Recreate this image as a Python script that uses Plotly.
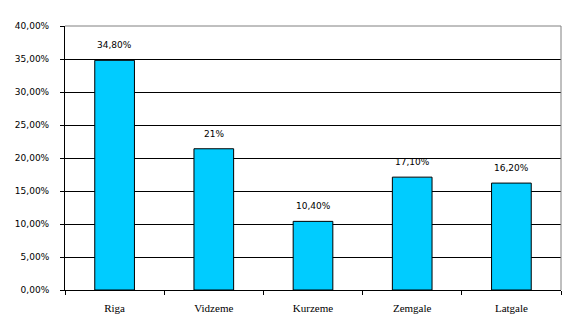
import plotly.graph_objects as go

categories = ["Riga", "Vidzeme", "Kurzeme", "Zemgale", "Latgale"]
values = [0.348, 0.214, 0.104, 0.171, 0.162]
labels = ["34,80%", "21%", "10,40%", "17,10%", "16,20%"]
y_ticks = [0, 0.05, 0.10, 0.15, 0.20, 0.25, 0.30, 0.35, 0.40]

fig = go.Figure()
fig.add_trace(go.Bar(
    x=categories, y=values, width=0.4,
    marker=dict(color="#00CCFF", line=dict(color="black", width=1)),
    hoverinfo="skip",
))
for c, v, t in zip(categories, values, labels):
    fig.add_annotation(x=c, y=v, text=t, showarrow=False, yanchor="bottom",
                       yshift=8, font=dict(family="DejaVu Sans", size=9, color="black"))

fig.update_layout(
    width=576, height=336,
    margin=dict(l=65, r=15, t=26, b=46),
    paper_bgcolor="white", plot_bgcolor="white",
    separators=",.",
    showlegend=False,
    bargap=0.6,
)
fig.update_xaxes(
    type="category", tickson="boundaries", ticks="outside", ticklen=4,
    tickcolor="black", showline=True, linecolor="black", linewidth=1,
    showgrid=False, ticklabelstandoff=8,
    tickfont=dict(family="Liberation Serif", size=11, color="black"),
)
fig.update_yaxes(
    range=[0, 0.40], tickvals=y_ticks, tickformat=".2%",
    ticks="outside", ticklen=4, tickcolor="black",
    showline=True, linecolor="black", linewidth=1,
    showgrid=True, gridcolor="black", gridwidth=1, zeroline=False,
    ticklabelstandoff=9,
    tickfont=dict(family="DejaVu Sans", size=9, color="black"),
)
fig.add_shape(type="line", xref="paper", yref="paper", x0=0, x1=1, y0=1, y1=1,
              line=dict(color="#808080", width=1), layer="above")
fig.add_shape(type="line", xref="paper", yref="paper", x0=1, x1=1, y0=0, y1=1,
              line=dict(color="#808080", width=1), layer="above")

fig.write_html("out.html")
